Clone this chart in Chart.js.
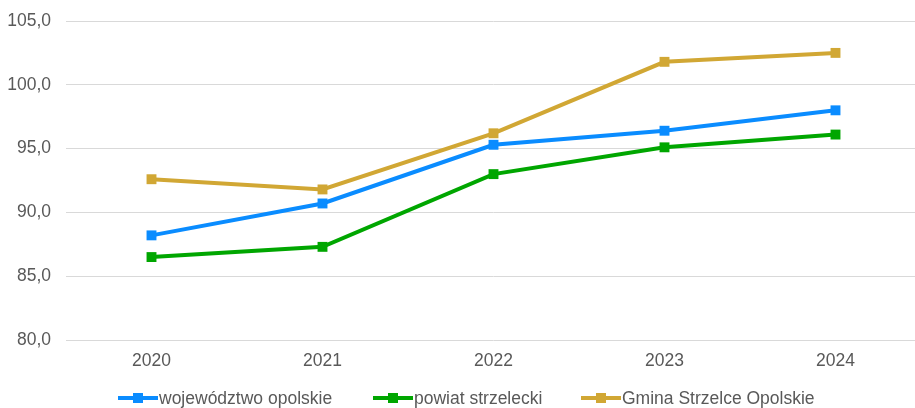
<!DOCTYPE html>
<html>
<head>
<meta charset="utf-8">
<script src="https://cdn.jsdelivr.net/npm/chart.js@4.4.1/dist/chart.umd.min.js"></script>
<style>
  html, body { margin: 0; padding: 0; background: #fff; overflow: hidden; }
  #wrap { width: 915px; height: 408px; overflow: hidden; position: relative; }
  #myChart { position: absolute; left: 0; top: 0; }
</style>
</head>
<body>
<div id="wrap"><canvas id="myChart" width="928" height="408"></canvas></div>
<script>
var years = ['2020', '2021', '2022', '2023', '2024'];
var seriesNames = ['województwo opolskie', 'powiat strzelecki', 'Gmina Strzelce Opolskie'];
var wojewodztwo = [88.2, 90.7, 95.3, 96.4, 98.0];
var powiat = [86.5, 87.3, 93.0, 95.1, 96.1];
var gmina = [92.6, 91.8, 96.2, 101.8, 102.5];
var yTicks = [80, 85, 90, 95, 100, 105];
var colors = ['#0a8cff', '#00a600', '#d1a734'];
var fontFamily = '"Liberation Sans", Arial, sans-serif';
var fontSize = 17.5;

function makeSet(i, values) {
    return {
        label: seriesNames[i],
        data: values,
        borderColor: colors[i],
        backgroundColor: colors[i],
        borderWidth: 4,
        pointStyle: 'rect',
        pointRadius: 7,
        pointBorderWidth: 0,
        pointHoverRadius: 7,
        tension: 0
    };
}

// legend drawn by hand: line with a square marker, text right after it
var legendStarts = [118, 373, 581];
var customLegend = {
    id: 'customLegend',
    afterDraw: function (chart) {
        var ctx = chart.ctx;
        var y = 398;
        ctx.save();
        ctx.font = fontSize + 'px ' + fontFamily;
        ctx.textBaseline = 'middle';
        chart.data.datasets.forEach(function (ds, i) {
            var x = legendStarts[i];
            ctx.strokeStyle = ds.borderColor;
            ctx.fillStyle = ds.borderColor;
            ctx.lineWidth = 4;
            ctx.beginPath();
            ctx.moveTo(x, y);
            ctx.lineTo(x + 40, y);
            ctx.stroke();
            ctx.fillRect(x + 20 - 5, y - 5, 10, 10);
            ctx.fillStyle = '#595959';
            ctx.fillText(ds.label, x + 41, y + 1);
        });
        ctx.restore();
    }
};

var ctx = document.getElementById('myChart').getContext('2d');
var myChart = new Chart(ctx, {
    type: 'line',
    data: {
        labels: years,
        datasets: [makeSet(0, wojewodztwo), makeSet(1, powiat), makeSet(2, gmina)]
    },
    plugins: [customLegend],
    options: {
        responsive: false,
        animation: false,
        devicePixelRatio: 1,
        layout: {
            padding: { top: 21, right: 1, bottom: 25, left: 5 }
        },
        plugins: {
            legend: { display: false },
            tooltip: { enabled: false }
        },
        scales: {
            y: {
                min: 80,
                max: 105,
                afterBuildTicks: function (axis) {
                    axis.ticks = yTicks.map(function (v) { return { value: v }; });
                },
                afterFit: function (axis) {
                    axis.width = 61;
                    axis.paddingTop = 0;
                    axis.paddingBottom = 0;
                },
                ticks: {
                    color: '#595959',
                    font: { size: fontSize, family: fontFamily },
                    padding: 15,
                    callback: function (value) {
                        return value.toFixed(1).replace('.', ',');
                    }
                },
                grid: { color: '#d9d9d9', lineWidth: 1, drawTicks: false },
                border: { display: false }
            },
            x: {
                offset: true,
                afterFit: function (axis) {
                    axis.paddingLeft = 0;
                    axis.paddingRight = 0;
                },
                ticks: {
                    color: '#595959',
                    font: { size: fontSize, family: fontFamily },
                    padding: 11
                },
                grid: { display: false, drawTicks: false },
                border: { display: false }
            }
        }
    }
});
</script>
</body>
</html>
